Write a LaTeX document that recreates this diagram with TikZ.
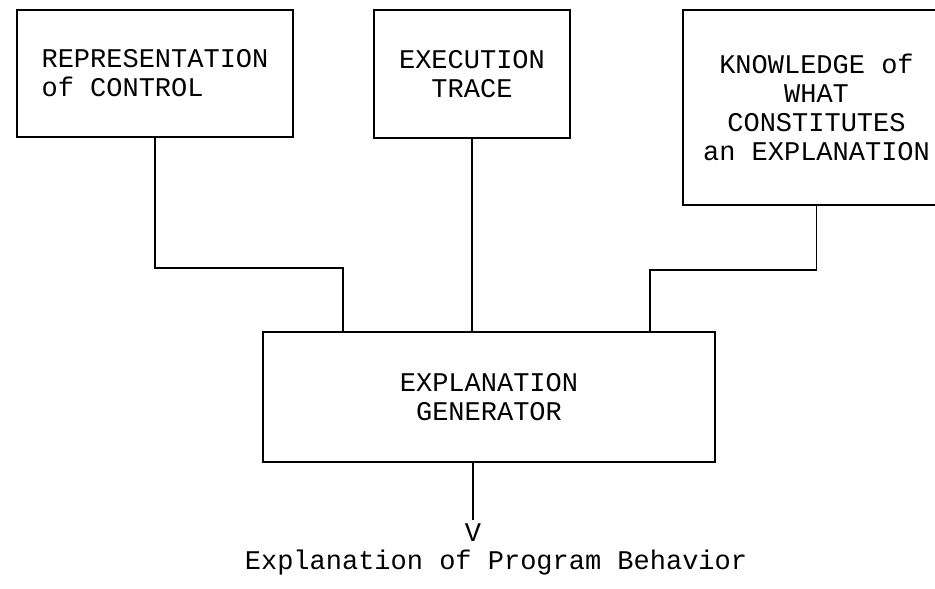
\documentclass[tikz,border=0pt]{standalone}
\usepackage{fontspec}
\setmonofont{Liberation Mono}
\usetikzlibrary{positioning}

\begin{document}
\begin{tikzpicture}[
  x=1pt,y=-1pt,
  node distance=8pt,
  box/.style={draw,line width=1.6pt,align=center,inner sep=0pt,
              font=\ttfamily\fontsize{27}{29}\selectfont},
  tag/.style={inner sep=0pt,font=\ttfamily\fontsize{27}{29}\selectfont},
  wire/.style={line width=1.8pt}
]
\fill[white] (0,0) rectangle (935,589);
\useasboundingbox (0,0) rectangle (935,589);
% input boxes
\node[box,align=left,minimum width=276pt,minimum height=127pt] (control) at (155,73.5) {REPRESENTATION\\of CONTROL};
\node[box,minimum width=196pt,minimum height=128pt] (trace) at (472,74) {EXECUTION\\TRACE};
\node[box,minimum width=267pt,minimum height=195pt] (know) at (816.5,107.5) {KNOWLEDGE of\\WHAT\\CONSTITUTES\\an EXPLANATION};
% generator and result
\node[box,minimum width=452pt,minimum height=130pt] (gen) at (489,397) {EXPLANATION\\GENERATOR};
\node[tag] (arrowv) at (473,533) {V};
\node[tag,below=of arrowv,xshift=23pt] (result) {Explanation of Program Behavior};
\coordinate (controljoin) at (343,268);
\coordinate (knowjoin) at (650,270);
\draw[wire] (control.south) |- (controljoin) -- (controljoin |- gen.north);
\draw[wire] (trace.south) -- (trace.south |- gen.north);
\draw[wire] (know.south) |- (knowjoin) -- (knowjoin |- gen.north);
\draw[wire] (gen.south -| arrowv) -- ([yshift=4pt]arrowv.north);
\end{tikzpicture}
\end{document}
